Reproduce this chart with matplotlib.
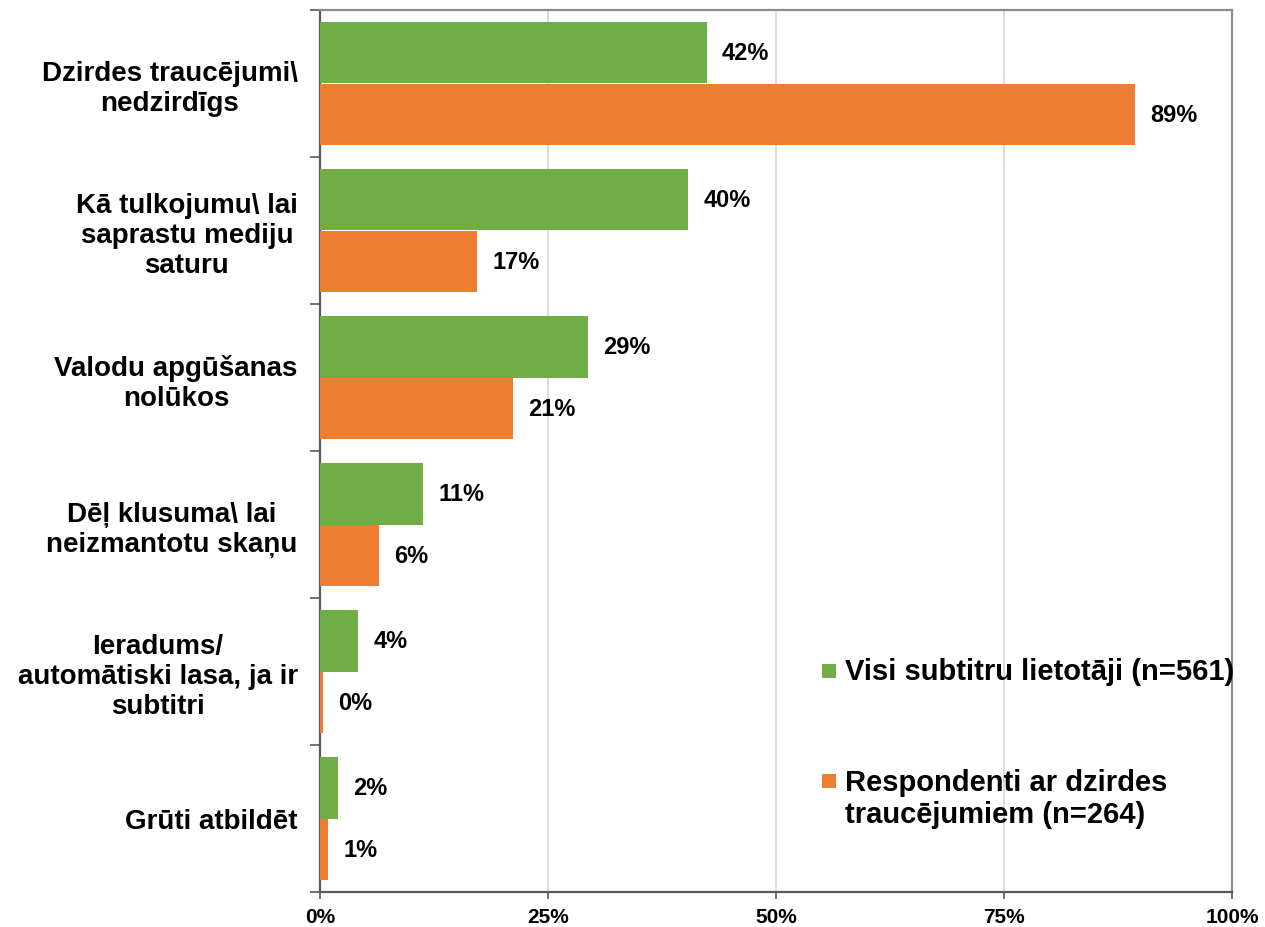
# plot.py
# Horizontal grouped bar chart: reasons for using subtitles.

import numpy as np
import matplotlib.pyplot as plt
from matplotlib.patches import Rectangle
from matplotlib.ticker import FixedLocator, PercentFormatter

categories = [
    "Dzirdes traucējumi\\\nnedzirdīgs",
    "Kā tulkojumu\\ lai\nsaprastu mediju\nsaturu",
    "Valodu apgūšanas\nnolūkos",
    "Dēļ klusuma\\ lai\nneizmantotu skaņu",
    "Ieradums/\nautomātiski lasa, ja ir\nsubtitri",
    "Grūti atbildēt",
]
all_users = [42.4, 40.4, 29.4, 11.3, 4.2, 2.0]
hearing_impaired = [89.4, 17.2, 21.2, 6.5, 0.3, 0.9]
series_names = ["Visi subtitru lietotāji (n=561)",
                "Respondenti ar dzirdes\ntraucējumiem (n=264)"]
x_ticks = [0, 25, 50, 75, 100]

GREEN = "#70AD47"
ORANGE = "#ED7D31"

plt.rcParams['font.family'] = ['Liberation Sans', 'DejaVu Sans']
plt.rcParams['font.weight'] = 'bold'

fig = plt.figure(figsize=(12.65, 9.28), dpi=100)
ax = fig.add_axes([320 / 1265, 35 / 928, 912 / 1265, 882 / 928])

y = np.arange(len(categories))
h = 0.42
b1 = ax.barh(y - h / 2, all_users, height=h, color=GREEN, zorder=3)
b2 = ax.barh(y + h / 2, hearing_impaired, height=h, color=ORANGE, zorder=3)

for bars, vals in [(b1, all_users), (b2, hearing_impaired)]:
    ax.bar_label(bars, labels=[f"{round(v)}%" for v in vals], padding=11,
                 fontsize=17, fontweight='bold', color='black')

ax.set_xlim(0, 100)
ax.set_ylim(len(categories) - 0.5, -0.5)

# category labels
ax.set_yticks(y)
ax.set_yticklabels(categories, fontsize=20, fontweight='bold',
                   multialignment='center', linespacing=1.2)
ax.tick_params(axis='y', which='major', length=0, pad=16)
ax.yaxis.set_minor_locator(FixedLocator(np.arange(-0.5, len(categories), 1)))
ax.tick_params(axis='y', which='minor', length=7, width=1.2, color='#595959')

ax.set_xticks(x_ticks)
ax.xaxis.set_major_formatter(PercentFormatter(decimals=0))
ax.tick_params(axis='x', length=5, width=1.2, color='#595959', labelsize=15, pad=6)
for lbl in ax.get_xticklabels():
    lbl.set_fontweight('bold')

ax.grid(axis='x', color='#D9D9D9', linewidth=1.3, zorder=0)
ax.set_axisbelow(True)

for side in ['left', 'bottom']:
    ax.spines[side].set_color('#595959')
    ax.spines[side].set_linewidth(1.6)
for side in ['top', 'right']:
    ax.spines[side].set_color('#8C8C8C')
    ax.spines[side].set_linewidth(1.6)

# legend, drawn by hand so the square sits beside the first text line
legend_rows = [(GREEN, series_names[0], 0.2426, 0.2506),
               (ORANGE, series_names[1], 0.1179, 0.1066)]
for color, name, box_y, text_y in legend_rows:
    ax.add_patch(Rectangle((0.5504, box_y), 0.0154, 0.0159, transform=ax.transAxes,
                           facecolor=color, edgecolor='none', zorder=4, clip_on=False))
    ax.text(0.5757, text_y, name, transform=ax.transAxes, fontsize=21,
            fontweight='bold', va='center', ha='left', linespacing=1.15)

fig.savefig("out.png", dpi=100)
